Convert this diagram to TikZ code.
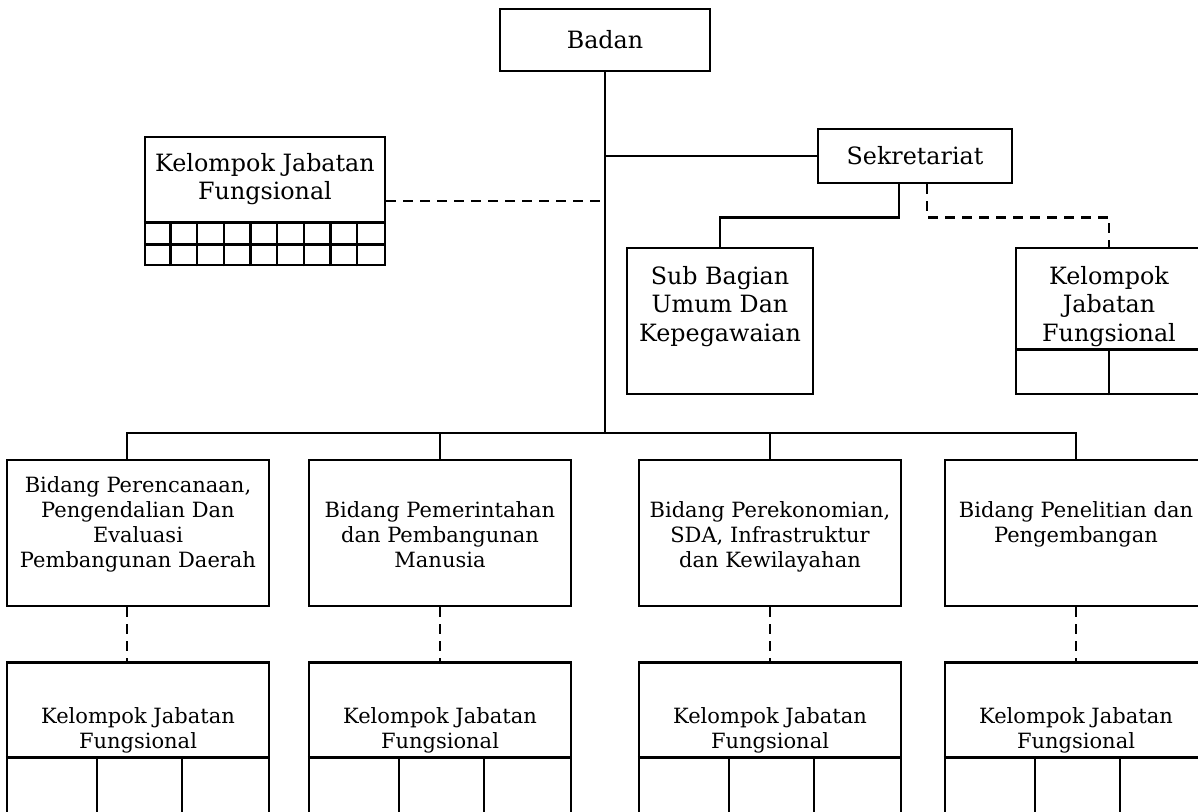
\documentclass[tikz,border=0pt]{standalone}
\usepackage{fontspec}
\setmainfont{DejaVu Serif}
\usetikzlibrary{positioning,calc}

\newcommand{\bigtxt}{\fontsize{23.8}{28.5}\selectfont}
\newcommand{\smalltxt}{\fontsize{21}{25}\selectfont}

\begin{document}
\begin{tikzpicture}[
        x=1pt, y=-1pt, line width=2.5pt,
        unit/.style={rectangle, draw, inner sep=0pt, align=center, font=\bigtxt},
        bidang/.style={unit, minimum width=262pt, minimum height=146pt},
        lbl/.style={inner sep=0pt, align=center, font=\smalltxt},
        dotline/.style={dash pattern=on 10pt off 7pt}
    ]
        \useasboundingbox (0,0) rectangle (1198,811);

        % Pimpinan dan sekretariat
        \node[unit, minimum width=210pt, minimum height=62pt] (badan) at (605,40) {Badan};
        \node[unit, minimum width=194pt, minimum height=54pt] (sek) at (915,156) {Sekretariat};

        \node[unit, minimum width=240pt, minimum height=128pt] (kjfkiri) at (265,201) {};
        \node[lbl, font=\bigtxt, below=16pt of kjfkiri.north] (kjfkiri-t) {Kelompok Jabatan\\Fungsional};
        \draw ($(kjfkiri.south west)+(0,-44)$) -- ($(kjfkiri.south east)+(0,-44)$);
        \draw ($(kjfkiri.south west)+(0,-22)$) -- ($(kjfkiri.south east)+(0,-22)$);
        \foreach \i in {1,...,8}
            \draw ($(kjfkiri.south west)+(\i*26.667,0)$) -- ++(0,-44);

        \node[unit, minimum width=186pt, minimum height=146pt] (subbag) at (720,321) {};
        \node[lbl, font=\bigtxt, below=18pt of subbag.north] (subbag-t) {Sub Bagian\\Umum Dan\\Kepegawaian};

        \node[unit, minimum width=186pt, minimum height=146pt] (kjfsek) at (1109,321) {};
        \node[lbl, font=\bigtxt, below=18pt of kjfsek.north] (kjfsek-t) {Kelompok\\Jabatan\\Fungsional};
        \draw ($(kjfsek.south west)+(0,-46)$) -- ($(kjfsek.south east)+(0,-46)$);
        \draw (kjfsek.south) -- ++(0,-46);

        % Bidang
        \node[bidang] (bid1) at (138,533) {};
        \node[bidang] (bid2) at (440,533) {};
        \node[bidang] (bid3) at (770,533) {};
        \node[bidang] (bid4) at (1076,533) {};
        \node[lbl, below=17pt of bid1.north] (bid1-t) {Bidang Perencanaan,\\Pengendalian Dan\\Evaluasi\\Pembangunan Daerah};
        \node[lbl, below=42pt of bid2.north] (bid2-t) {Bidang Pemerintahan\\dan Pembangunan\\Manusia};
        \node[lbl, below=42pt of bid3.north] (bid3-t) {Bidang Perekonomian,\\SDA, Infrastruktur\\dan Kewilayahan};
        \node[lbl, below=42pt of bid4.north] (bid4-t) {Bidang Penelitian dan\\Pengembangan};

        \foreach \n in {1,...,4} {
            \node[unit, minimum width=262pt, minimum height=180pt, below=54pt of bid\n] (kjf\n) {};
            \node[lbl, below=45pt of kjf\n.north] (kjf\n-t) {Kelompok Jabatan\\Fungsional};
            \draw ($(kjf\n.north west)+(0,96)$) -- ($(kjf\n.north east)+(0,96)$);
            \draw ($(kjf\n.north west)+(91,96)$) -- ($(kjf\n.south west)+(91,0)$);
            \draw ($(kjf\n.north west)+(176,96)$) -- ($(kjf\n.south west)+(176,0)$);
        }

        % Garis
        \coordinate (bus) at (605,433);
        \draw (badan.south) -- (bus);
        \draw (sek.west) -- (sek.west -| bus);
        \draw[dotline] (kjfkiri.east) -- (kjfkiri.east -| bus);
        \draw ($(sek.south)+(-16,0)$) -- ++(0,33) -| (subbag.north);
        \draw[dotline] ($(sek.south)+(12,0)$) -- ++(0,33) -| (kjfsek.north);
        \draw ($(bid1.north)+(-11,0)$) coordinate (bid1in) -- (bid1in |- bus) -- (bus -| bid4.north) -- (bid4.north);
        \draw (bid2.north) -- (bid2.north |- bus);
        \draw (bid3.north) -- (bid3.north |- bus);
        \draw[dotline] ($(bid1.south)+(-11,0)$) -- ($(kjf1.north)+(-11,0)$);
        \foreach \n in {2,3,4}
            \draw[dotline] (bid\n.south) -- (kjf\n.north);
    \end{tikzpicture}
\end{document}
